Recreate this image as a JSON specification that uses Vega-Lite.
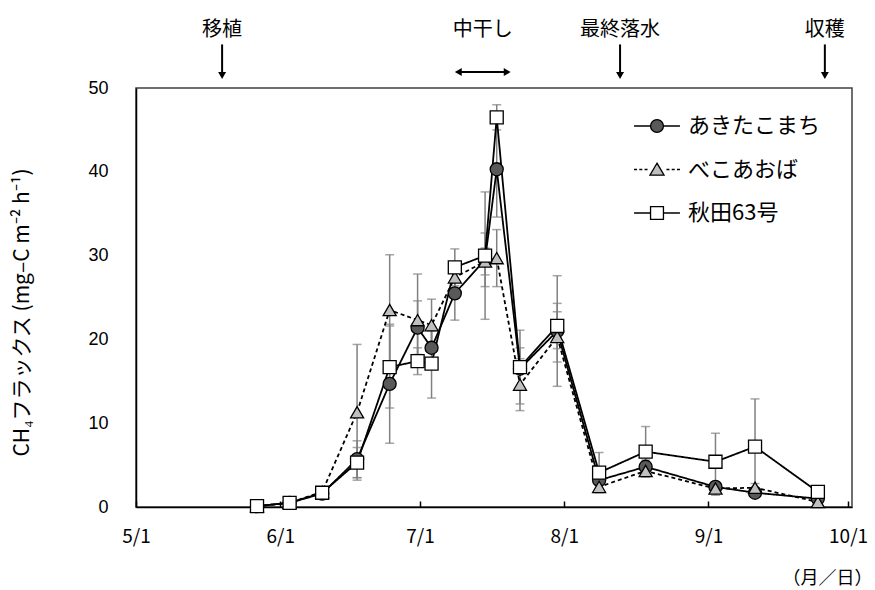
{
  "$schema": "https://vega.github.io/schema/vega-lite/v6.json",
  "width": 716,
  "height": 419,
  "autosize": {"type": "none"},
  "padding": {"left": 136, "top": 88, "right": 23, "bottom": 83},
  "background": "white",
  "config": {
    "view": {"stroke": "#404040", "strokeWidth": 1.5},
    "font": "Noto Sans CJK JP",
    "axis": {"grid": false, "domainColor": "black", "domainWidth": 1.5, "tickColor": "black", "tickWidth": 1.5, "labelColor": "black", "titleColor": "black", "titleFontWeight": "normal"}
  },
  "datasets": {
    "flux": [
      {"variety": "あきたこまち", "date": "2010-05-27T00:00", "flux": 0.1, "sd": 0.1},
      {"variety": "あきたこまち", "date": "2010-06-03T00:00", "flux": 0.5, "sd": 0.2},
      {"variety": "あきたこまち", "date": "2010-06-10T00:00", "flux": 1.6, "sd": 0.3},
      {"variety": "あきたこまち", "date": "2010-06-17T12:00", "flux": 5.7, "sd": 2.2},
      {"variety": "あきたこまち", "date": "2010-06-24T12:00", "flux": 14.7, "sd": 7.1},
      {"variety": "あきたこまち", "date": "2010-06-30T12:00", "flux": 21.4, "sd": 3.2},
      {"variety": "あきたこまち", "date": "2010-07-03T12:00", "flux": 19.0, "sd": 2.0},
      {"variety": "あきたこまち", "date": "2010-07-08T12:00", "flux": 25.5, "sd": 3.2},
      {"variety": "あきたこまち", "date": "2010-07-15T00:00", "flux": 29.5, "sd": 3.2},
      {"variety": "あきたこまち", "date": "2010-07-17T12:00", "flux": 40.3, "sd": 5.7},
      {"variety": "あきたこまち", "date": "2010-07-22T12:00", "flux": 16.5, "sd": 2.5},
      {"variety": "あきたこまち", "date": "2010-07-30T12:00", "flux": 21.0, "sd": 6.6},
      {"variety": "あきたこまち", "date": "2010-08-08T12:00", "flux": 3.2, "sd": 1.0},
      {"variety": "あきたこまち", "date": "2010-08-18T12:00", "flux": 4.8, "sd": 0.8},
      {"variety": "あきたこまち", "date": "2010-09-02T12:00", "flux": 2.4, "sd": 0.5},
      {"variety": "あきたこまち", "date": "2010-09-11T00:00", "flux": 1.7, "sd": 0.4},
      {"variety": "あきたこまち", "date": "2010-09-24T12:00", "flux": 1.0, "sd": 0.3},
      {"variety": "べこあおば", "date": "2010-05-27T00:00", "flux": 0.1, "sd": 0.1},
      {"variety": "べこあおば", "date": "2010-06-03T00:00", "flux": 0.5, "sd": 0.2},
      {"variety": "べこあおば", "date": "2010-06-10T00:00", "flux": 1.8, "sd": 0.3},
      {"variety": "べこあおば", "date": "2010-06-17T12:00", "flux": 11.3, "sd": 8.1},
      {"variety": "べこあおば", "date": "2010-06-24T12:00", "flux": 23.5, "sd": 6.6},
      {"variety": "べこあおば", "date": "2010-06-30T12:00", "flux": 22.3, "sd": 5.5},
      {"variety": "べこあおば", "date": "2010-07-03T12:00", "flux": 21.7, "sd": 3.1},
      {"variety": "べこあおば", "date": "2010-07-08T12:00", "flux": 27.4, "sd": 1.5},
      {"variety": "べこあおば", "date": "2010-07-15T00:00", "flux": 29.3, "sd": 1.6},
      {"variety": "べこあおば", "date": "2010-07-17T12:00", "flux": 29.7, "sd": 3.4},
      {"variety": "べこあおば", "date": "2010-07-22T12:00", "flux": 14.6, "sd": 3.1},
      {"variety": "べこあおば", "date": "2010-07-30T12:00", "flux": 20.3, "sd": 3.0},
      {"variety": "べこあおば", "date": "2010-08-08T12:00", "flux": 2.4, "sd": 0.3},
      {"variety": "べこあおば", "date": "2010-08-18T12:00", "flux": 4.3, "sd": 0.7},
      {"variety": "べこあおば", "date": "2010-09-02T12:00", "flux": 2.2, "sd": 0.8},
      {"variety": "べこあおば", "date": "2010-09-11T00:00", "flux": 2.3, "sd": 0.5},
      {"variety": "べこあおば", "date": "2010-09-24T12:00", "flux": 0.6, "sd": 0.3},
      {"variety": "秋田63号", "date": "2010-05-27T00:00", "flux": 0.1, "sd": 0.1},
      {"variety": "秋田63号", "date": "2010-06-03T00:00", "flux": 0.5, "sd": 0.2},
      {"variety": "秋田63号", "date": "2010-06-10T00:00", "flux": 1.7, "sd": 0.4},
      {"variety": "秋田63号", "date": "2010-06-17T12:00", "flux": 5.3, "sd": 1.8},
      {"variety": "秋田63号", "date": "2010-06-24T12:00", "flux": 16.7, "sd": 4.9},
      {"variety": "秋田63号", "date": "2010-06-30T12:00", "flux": 17.4, "sd": 1.6},
      {"variety": "秋田63号", "date": "2010-07-03T12:00", "flux": 17.1, "sd": 4.1},
      {"variety": "秋田63号", "date": "2010-07-08T12:00", "flux": 28.6, "sd": 2.2},
      {"variety": "秋田63号", "date": "2010-07-15T00:00", "flux": 30.0, "sd": 7.6},
      {"variety": "秋田63号", "date": "2010-07-17T12:00", "flux": 46.5, "sd": 1.5},
      {"variety": "秋田63号", "date": "2010-07-22T12:00", "flux": 16.7, "sd": 4.4},
      {"variety": "秋田63号", "date": "2010-07-30T12:00", "flux": 21.6, "sd": 2.7},
      {"variety": "秋田63号", "date": "2010-08-08T12:00", "flux": 4.1, "sd": 2.4},
      {"variety": "秋田63号", "date": "2010-08-18T12:00", "flux": 6.6, "sd": 3.0},
      {"variety": "秋田63号", "date": "2010-09-02T12:00", "flux": 5.4, "sd": 3.4},
      {"variety": "秋田63号", "date": "2010-09-11T00:00", "flux": 7.2, "sd": 5.7},
      {"variety": "秋田63号", "date": "2010-09-24T12:00", "flux": 1.8, "sd": 0.4}
    ],
    "events": [
      {"event": "移植", "date": "2010-05-19T12:00"},
      {"event": "中干し", "date": "2010-07-14T12:00"},
      {"event": "最終落水", "date": "2010-08-13T00:00"},
      {"event": "収穫", "date": "2010-09-26T00:00"}
    ],
    "arrows": [
      {"event": "移植", "date": "2010-05-19T12:00"},
      {"event": "最終落水", "date": "2010-08-13T00:00"},
      {"event": "収穫", "date": "2010-09-26T00:00"}
    ],
    "drying": [
      {"event": "中干し", "date": "2010-07-09T06:00", "end": "2010-07-19T18:00"}
    ]
  },
  "encoding": {
    "x": {
      "field": "date",
      "type": "temporal",
      "title": "（月／日）",
      "scale": {"domain": [{"year": 2010, "month": 5, "date": 1}, {"year": 2010, "month": 10, "date": 1, "hours": 20}]},
      "axis": {
        "values": [
          {"year": 2010, "month": 5, "date": 1},
          {"year": 2010, "month": 6, "date": 1},
          {"year": 2010, "month": 7, "date": 1},
          {"year": 2010, "month": 8, "date": 1},
          {"year": 2010, "month": 9, "date": 1},
          {"year": 2010, "month": 10, "date": 1}
        ],
        "format": "%-m/%-d",
        "labelFont": "Noto Sans CJK JP",
        "labelFontSize": 19,
        "labelPadding": 26,
        "labelFlush": false,
        "labelOverlap": false,
        "tickSize": -6,
        "titleFont": "Noto Sans CJK JP",
        "titleFontSize": 18,
        "titleAlign": "right",
        "titleAnchor": "end",
        "titleBaseline": "middle",
        "titleX": 736,
        "titleY": 71
      }
    }
  },
  "resolve": {"scale": {"shape": "independent", "fill": "independent"}},
  "layer": [
    {
      "data": {"name": "flux"},
      "mark": {"type": "point", "filled": true, "stroke": "black", "strokeWidth": 1.3, "size": 900, "opacity": 0},
      "encoding": {
        "y": {"field": "flux", "type": "quantitative", "title": "CH₄フラックス (mg–C m⁻² h⁻¹)"},
        "shape": {
          "field": "variety", "type": "nominal",
          "scale": {
            "domain": ["あきたこまち", "べこあおば", "秋田63号"],
            "range": [
              "M-1.53,0H-0.45M0.45,0H1.53M-0.43,0A0.43,0.43,0,1,1,0.43,0A0.43,0.43,0,1,1,-0.43,0Z",
              "M-1.53,0H-1.33M-1.18,0H-0.98M-0.83,0H-0.63M0.63,0H0.83M0.98,0H1.18M1.33,0H1.53M0,-0.42L0.47,0.38L-0.47,0.38Z",
              "M-1.53,0H-0.43M0.43,0H1.53M-0.43,-0.43H0.43V0.43H-0.43Z"
            ]
          },
          "legend": {
            "title": null,
            "orient": "none",
            "legendX": 505,
            "legendY": 22,
            "padding": 0,
            "symbolSize": 900,
            "symbolOpacity": 1,
            "symbolFillColor": "white",
            "symbolStrokeColor": "black",
            "symbolStrokeWidth": 1.3,
            "labelFont": "Noto Sans CJK JP",
            "labelFontSize": 22,
            "labelColor": "black",
            "labelOffset": 15,
            "rowPadding": 16.5
          }
        },
        "fill": {
          "field": "variety", "type": "nominal",
          "scale": {"domain": ["あきたこまち", "べこあおば", "秋田63号"], "range": ["#595959", "#c0c0c0", "#ffffff"]},
          "legend": {
            "title": null,
            "orient": "none",
            "legendX": 505,
            "legendY": 22,
            "padding": 0,
            "symbolSize": 900,
            "symbolOpacity": 1,
            "symbolFillColor": "white",
            "symbolStrokeColor": "black",
            "symbolStrokeWidth": 1.3,
            "labelFont": "Noto Sans CJK JP",
            "labelFontSize": 22,
            "labelColor": "black",
            "labelOffset": 15,
            "rowPadding": 16.5
          }
        }
      }
    },
    {
      "data": {"name": "flux"},
      "mark": {"type": "errorbar", "ticks": {"size": 9, "color": "#808080"}, "rule": {"color": "#808080", "strokeWidth": 1.5}, "thickness": 1.5, "color": "#808080"},
      "encoding": {
        "y": {
          "field": "flux", "type": "quantitative",
          "title": "CH₄フラックス (mg–C m⁻² h⁻¹)",
          "scale": {"domain": [0, 50], "nice": false},
          "axis": {
            "values": [0, 10, 20, 30, 40, 50],
            "labelFont": "Liberation Sans",
            "labelFontSize": 18,
            "labelPadding": 28,
            "ticks": false,
            "titleFont": "Noto Sans CJK JP",
            "titleFontSize": 21,
            "titleX": -114,
            "titleY": 224,
            "titleAngle": 270,
            "titleAlign": "center",
            "titleBaseline": "middle"
          }
        },
        "yError": {"field": "sd"},
        "detail": {"field": "variety"}
      }
    },
    {
      "data": {"name": "flux"},
      "mark": {"type": "line", "color": "black", "strokeWidth": 1.8},
      "encoding": {
        "y": {"field": "flux", "type": "quantitative", "title": "CH₄フラックス (mg–C m⁻² h⁻¹)"},
        "strokeDash": {
          "field": "variety", "type": "nominal",
          "scale": {"range": [[1, 0], [4, 3], [1, 0]]},
          "legend": null
        }
      }
    },
    {
      "data": {"name": "flux"},
      "mark": {"type": "point", "filled": true, "stroke": "black", "strokeWidth": 1.3, "size": 170, "opacity": 1},
      "encoding": {
        "y": {"field": "flux", "type": "quantitative", "title": "CH₄フラックス (mg–C m⁻² h⁻¹)"},
        "shape": {
          "field": "variety", "type": "nominal",
          "scale": {"range": ["circle", "triangle-up", "square"]},
          "legend": null
        },
        "fill": {
          "field": "variety", "type": "nominal",
          "scale": {"range": ["#595959", "#c0c0c0", "#ffffff"]},
          "legend": null
        }
      }
    },
    {
      "data": {"name": "events"},
      "mark": {"type": "text", "font": "Noto Sans CJK JP", "fontSize": 20, "color": "black", "align": "center", "baseline": "middle"},
      "encoding": {
        "y": {"datum": 56.9, "type": "quantitative", "title": "CH₄フラックス (mg–C m⁻² h⁻¹)"},
        "text": {"field": "event"}
      }
    },
    {
      "data": {"name": "arrows"},
      "mark": {"type": "rule", "color": "black", "strokeWidth": 2},
      "encoding": {
        "y": {"datum": 55.2, "type": "quantitative", "title": "CH₄フラックス (mg–C m⁻² h⁻¹)"},
        "y2": {"datum": 51.9}
      }
    },
    {
      "data": {"name": "arrows"},
      "mark": {"type": "point", "shape": "triangle-down", "filled": true, "color": "black", "size": 64, "opacity": 1},
      "encoding": {
        "y": {"datum": 51.5, "type": "quantitative", "title": "CH₄フラックス (mg–C m⁻² h⁻¹)"}
      }
    },
    {
      "data": {"name": "drying"},
      "mark": {"type": "rule", "color": "black", "strokeWidth": 2},
      "encoding": {
        "x2": {"field": "end"},
        "y": {"datum": 51.9, "type": "quantitative", "title": "CH₄フラックス (mg–C m⁻² h⁻¹)"}
      }
    },
    {
      "data": {"name": "drying"},
      "mark": {"type": "point", "shape": "triangle-left", "filled": true, "color": "black", "size": 64, "opacity": 1},
      "encoding": {
        "y": {"datum": 51.9, "type": "quantitative", "title": "CH₄フラックス (mg–C m⁻² h⁻¹)"}
      }
    },
    {
      "data": {"name": "drying"},
      "mark": {"type": "point", "shape": "triangle-right", "filled": true, "color": "black", "size": 64, "opacity": 1},
      "encoding": {
        "x": {"field": "end", "type": "temporal", "title": "（月／日）"},
        "y": {"datum": 51.9, "type": "quantitative", "title": "CH₄フラックス (mg–C m⁻² h⁻¹)"}
      }
    }
  ]
}
